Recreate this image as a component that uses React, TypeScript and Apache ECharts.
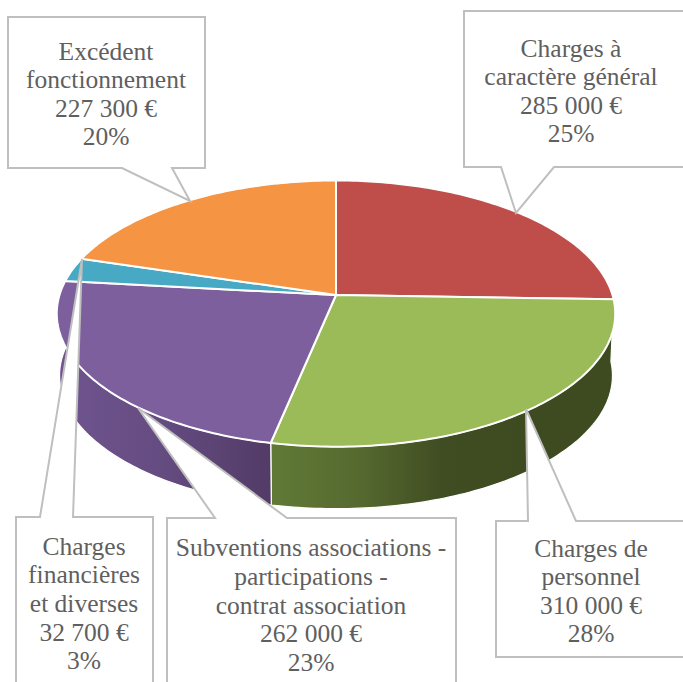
import React, { useEffect, useRef } from "react";
import * as echarts from "echarts";

const categories = [
  "Charges à\ncaractère général",
  "Charges de\npersonnel",
  "Subventions associations -\nparticipations -\ncontrat association",
  "Charges\nfinancières\net diverses",
  "Excédent\nfonctionnement",
];
const values = [285000, 310000, 262000, 32700, 227300];
const valueLabels = ["285 000 €", "310 000 €", "262 000 €", "32 700 €", "227 300 €"];
const percentLabels = ["25%", "28%", "23%", "3%", "20%"];

const topColors = ["#BF4E4B", "#9BBB59", "#7E5F9E", "#48A9C4", "#F59442"];
const wallStops = [
  ["#7A3331", "#7A3331"],
  ["#607A36", "#566A30", "#404C22", "#3E4A20", "#3E4A20"],
  ["#70558F", "#644B80", "#523B66"],
  ["#2F6F80", "#2F6F80"],
  ["#A8652E", "#A8652E"],
];

const cx = 336;
const cy = 295;
const R = 276.5;
const S = 130.5;
const P = 0.1396;
const DEPTH = 62;
const WALL_SCALE = 0.99;
const VISIBLE_FROM = 92;
const VISIBLE_TO = 277;
const toRad = Math.PI / 180;

function rim(deg: number, scale = 1, dy = 0): number[] {
  const u = Math.sin(deg * toRad);
  const v = Math.cos(deg * toRad);
  const w = 1 + P * v;
  return [cx + (R * scale * u) / w, cy + dy - (S * v) / w];
}

const total = values.reduce((a, b) => a + b, 0);
const starts: number[] = [];
values.reduce((acc, val) => {
  starts.push((acc / total) * 360);
  return acc + val;
}, 0);

function arcPoints(from: number, to: number, scale = 1, dy = 0): number[][] {
  const pts: number[][] = [];
  const n = Math.max(2, Math.ceil(Math.abs(to - from) / 1));
  for (let i = 0; i <= n; i++) pts.push(rim(from + ((to - from) * i) / n, scale, dy));
  return pts;
}

const callouts = [
  {
    pts: [[464, 11], [690, 11], [690, 167], [554, 167], [516, 213], [501, 167], [464, 167]],
    tx: 571, ty: 91,
  },
  {
    pts: [[496, 521], [528, 521], [526, 409], [576, 521], [690, 521], [690, 657], [496, 657]],
    tx: 591, ty: 591,
  },
  {
    pts: [[167, 518], [215, 518], [138, 408], [287, 518], [456, 518], [456, 695], [167, 695]],
    tx: 311, ty: 605,
  },
  {
    pts: [[16, 517], [40, 517], [82, 259], [73, 517], [153, 517], [153, 695], [16, 695]],
    tx: 84, ty: 603.5,
  },
  {
    pts: [[8, 17], [205, 17], [205, 168], [172, 168], [190, 201], [122, 168], [8, 168]],
    tx: 106, ty: 94,
  },
];

export default function App() {
  const ref = useRef<HTMLDivElement>(null);
  useEffect(() => {
    document.body.style.margin = "0";
    const chart = echarts.init(ref.current!, undefined, { renderer: "svg" });
    chart.setOption({
      animation: false,
      backgroundColor: "#ffffff",
      series: [
        {
          type: "custom",
          coordinateSystem: "none",
          silent: true,
          z: 2,
          data: values,
          renderItem: (params: any) => {
            const i = params.dataIndex;
            const a = Math.max(starts[i], VISIBLE_FROM);
            const b = Math.min(starts[i] + (values[i] / total) * 360, VISIBLE_TO);
            if (b <= a) return { type: "group", children: [] };
            const pts = [...arcPoints(a, b), ...arcPoints(b, a, WALL_SCALE, DEPTH)];
            const stops = wallStops[i];
            return {
              type: "polygon",
              shape: { points: pts },
              style: {
                fill: new echarts.graphic.LinearGradient(
                  0, 0, 1, 0,
                  stops.map((color, k) => ({ offset: k / (stops.length - 1), color }))
                ),
                stroke: "#ffffff",
                lineWidth: 1.2,
              },
            };
          },
        },
        {
          type: "custom",
          coordinateSystem: "none",
          silent: true,
          z: 3,
          data: values,
          renderItem: (params: any) => {
            const i = params.dataIndex;
            const a = starts[i];
            const b = a + (values[i] / total) * 360;
            return {
              type: "polygon",
              shape: { points: [[cx, cy], ...arcPoints(a, b)] },
              style: { fill: topColors[i], stroke: "#ffffff", lineWidth: 2, lineJoin: "round" },
            };
          },
        },
      ],
      graphic: {
        elements: callouts.flatMap((c, i) => [
          {
            type: "polygon",
            z: 10,
            silent: true,
            shape: { points: c.pts },
            style: { fill: "#ffffff", stroke: "#BFBFBF", lineWidth: 2, lineJoin: "miter" },
          },
          {
            type: "text",
            z: 11,
            silent: true,
            x: c.tx,
            y: c.ty,
            style: {
              text: `${categories[i]}\n${valueLabels[i]}\n${percentLabels[i]}`,
              align: "center",
              verticalAlign: "middle",
              fill: "#5F5F5F",
              fontFamily: "Liberation Serif",
              fontSize: 25.5,
              lineHeight: 28.6,
            },
          },
        ]),
      },
    });
    return () => chart.dispose();
  }, []);
  return <div ref={ref} style={{ width: 683, height: 682, overflow: "hidden" }} />;
}
